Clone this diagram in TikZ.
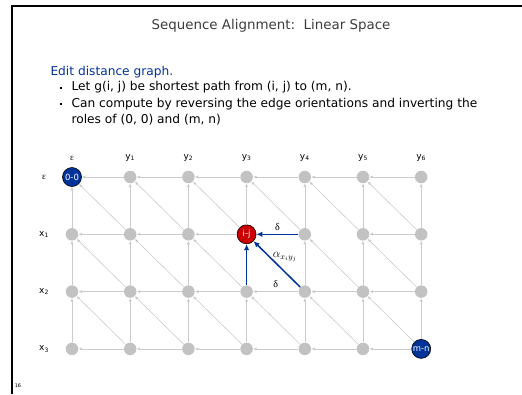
\documentclass[tikz,border=0pt]{standalone}
\usepackage{fontspec}
\setmainfont{DejaVu Sans}
\newfontfamily\labelfont{DejaVu Sans}
\newfontfamily\greekserif{Liberation Serif}
\usepackage{tikz}
\usetikzlibrary{arrows.meta,positioning}
\definecolor{slideblue}{RGB}{0,51,153}
\definecolor{nodegrey}{RGB}{194,194,194}
\definecolor{ijred}{RGB}{204,0,0}
\definecolor{titlegrey}{RGB}{60,60,60}

\begin{document}
\begin{tikzpicture}[x=1pt,y=-1pt,
	vtx/.style={circle,fill=nodegrey,minimum size=12.5pt,inner sep=0pt},
	endvtx/.style={circle,draw=black,line width=0.6pt,fill=slideblue,text=white,minimum size=19pt,inner sep=0pt,font=\labelfont\fontsize{8.5}{8.5}\selectfont},
	ijvtx/.style={endvtx,fill=ijred},
	edge/.style={draw=nodegrey!85,line width=0.6pt,-{Latex[length=3.5pt,width=3pt]}},
	bluepath/.style={draw=slideblue,line width=1.5pt,-{Latex[length=6pt,width=5.5pt]}},
	lbl/.style={font=\labelfont\fontsize{9}{9}\selectfont},
	bodytext/.style={font=\fontsize{12.2}{16}\selectfont},
	bulletmark/.style={rectangle,fill=black,minimum size=2pt,inner sep=0pt}]
	\useasboundingbox (0,0) rectangle (522,394);
	% slide frame
	\draw[line width=2.5pt] (12,394) -- (12,6) -- (522,6);
	\node[font=\fontsize{13.4}{13.4}\selectfont,text=titlegrey] (title) at (271,26) {Sequence Alignment:\ \ Linear Space};
	\node[bodytext,anchor=west,text=slideblue] (head) at (47,72) {Edit distance graph.};
	\node[bulletmark] (d1) at (61,88) {};
	\node[bodytext,anchor=west] (b1) at (68,87) {Let g(i, j) be shortest path from (i, j) to (m, n).};
	\node[bulletmark] (d2) at (61,104) {};
	\node[bodytext,anchor=north west,align=left] (b2) at (68,95) {Can compute by reversing the edge orientations and inverting the\\roles of (0, 0) and (m, n)};
	\node[font=\fontsize{5}{5}\selectfont] (pg) at (18,386) {16};
	% grid of vertices
	\foreach \r in {0,...,3}
		\foreach \c in {0,...,6}
			{\node[vtx] (v\r\c) at ({72+58.2*\c},{177+57.3*\r}) {};}
	\node[endvtx] (v00) at (v00) {0-0};
	\node[ijvtx] (v13) at (v13) {i-j};
	\node[endvtx] (v36) at (v36) {m-n};
	% headers
	\foreach \c/\t in {0/\greekserif ε, 1/y\textsubscript{1}, 2/y\textsubscript{2}, 3/y\textsubscript{3}, 4/y\textsubscript{4}, 5/y\textsubscript{5}, 6/y\textsubscript{6}}
		{\node[lbl] (h\c) at ({72+58.2*\c},158) {\t};}
	\foreach \r/\t in {0/\greekserif ε, 1/x\textsubscript{1}, 2/x\textsubscript{2}, 3/x\textsubscript{3}}
		{\node[lbl] (r\r) at (44,{177+57.3*\r}) {\t};}
	% grey edges (left, up, diagonal)
	\foreach \r in {0,...,3}
		\foreach \c in {0,...,5}
		{
			\pgfmathtruncatemacro\cn{\c+1}
			\ifnum\r\c=14 \else \draw[edge] (v\r\cn) -- (v\r\c);\fi
		}
	\foreach \r in {0,1,2}
		\foreach \c in {0,...,6}
		{
			\pgfmathtruncatemacro\rn{\r+1}
			\ifnum\r\c=13 \else \draw[edge] (v\rn\c) -- (v\r\c);\fi
		}
	\foreach \r in {0,1,2}
		\foreach \c in {0,...,5}
		{
			\pgfmathtruncatemacro\rn{\r+1}
			\pgfmathtruncatemacro\cn{\c+1}
			\ifnum\r\c=13 \else \draw[edge] (v\rn\cn) -- (v\r\c);\fi
		}
	% blue edges into i-j
	\draw[bluepath] (v14) -- node[above,font=\greekserif\fontsize{10}{10}\selectfont] {δ} (v13);
	\draw[bluepath] (v24) -- node[above right=-2pt and -8pt,font=\fontsize{12}{12}\selectfont] {$\alpha_{x_iy_j}$} (v13);
	\draw[bluepath] (v23) -- (v13);
	\path (v24) -- node[above,font=\greekserif\fontsize{10}{10}\selectfont] {δ} (v23);
\end{tikzpicture}
\end{document}
